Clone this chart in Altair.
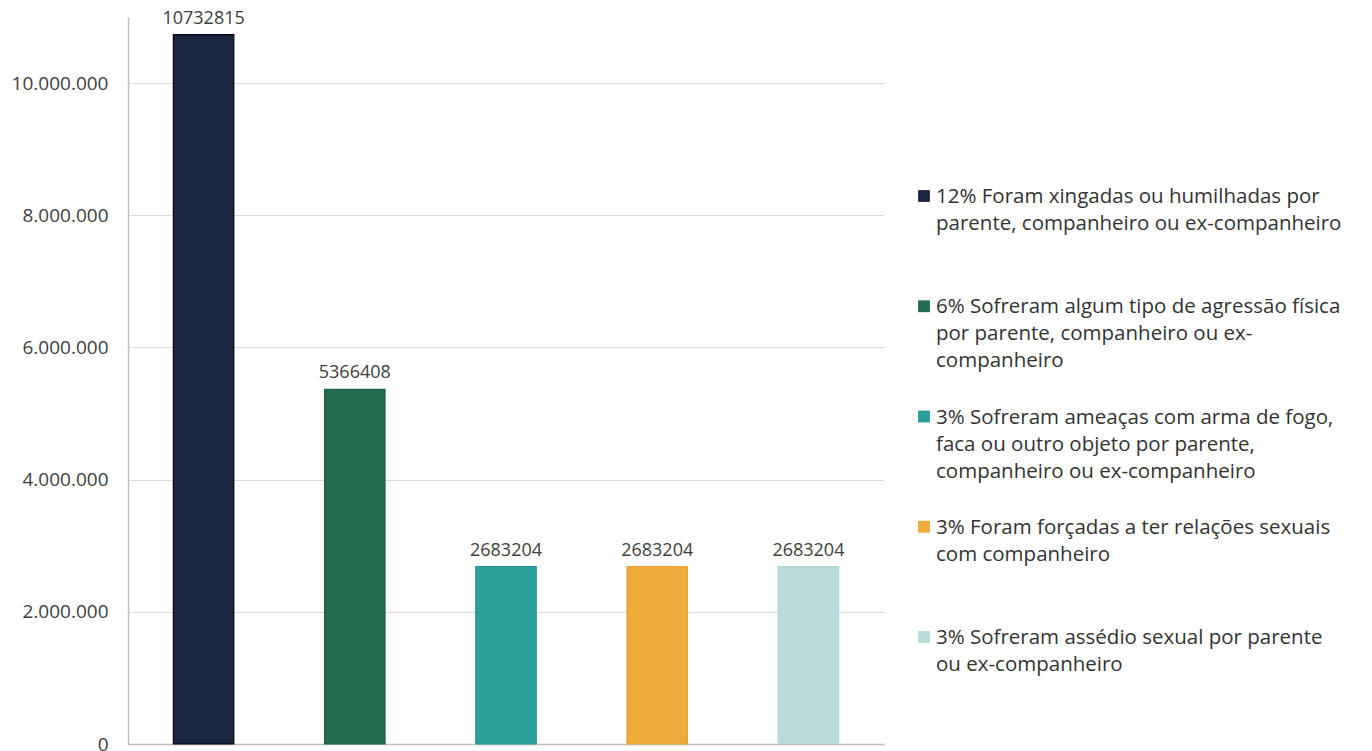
import altair as alt
import pandas as pd

keys = ["a", "b", "c", "d", "e"]
labels = [
    "12% Foram xingadas ou humilhadas por\nparente, companheiro ou ex-companheiro",
    "6% Sofreram algum tipo de agressão física\npor parente, companheiro ou ex-\ncompanheiro",
    "3% Sofreram ameaças com arma de fogo,\nfaca ou outro objeto por parente,\ncompanheiro ou ex-companheiro",
    "3% Foram forçadas a ter relações sexuais\ncom companheiro",
    "3% Sofreram assédio sexual por parente\nou ex-companheiro",
]
values = [10732815, 5366408, 2683204, 2683204, 2683204]
colors = ["#1b2440", "#256b4f", "#2a9f9a", "#eeab3b", "#b9dcdb"]
strokes = ["#05070d", "#22634a", "#299893", "#e6a437", "#b0d4d3"]
y_ticks = [0, 2000000, 4000000, 6000000, 8000000, 10000000]

df = pd.DataFrame({"key": keys, "label": labels, "value": values})

FONT = "Open Sans"
TXT = "#404040"

color_scale = alt.Scale(domain=keys, range=colors)
stroke_scale = alt.Scale(domain=keys, range=strokes)

base = alt.Chart(df).encode(
    x=alt.X(
        "key:N",
        sort=keys,
        scale=alt.Scale(paddingInner=0.6, paddingOuter=0.3),
        axis=alt.Axis(labels=False, ticks=False, title=None, grid=False,
                      domainColor="#bfbfbf", domainWidth=1.5),
    ),
    y=alt.Y(
        "value:Q",
        scale=alt.Scale(domain=[0, 11000000], nice=False),
        axis=alt.Axis(
            values=y_ticks,
            labelExpr="join(split(format(datum.value, ','), ','), '.')",
            ticks=False,
            title=None,
            domainColor="#bfbfbf",
            domainWidth=1.5,
            gridColor="#d9d9d9",
            labelFontSize=19,
            labelColor=TXT,
            labelFont=FONT,
            labelPadding=20,
        ),
    ),
)

bars = base.mark_bar(strokeWidth=1.2).encode(
    color=alt.Color("key:N", scale=color_scale, legend=None),
    stroke=alt.Stroke("key:N", scale=stroke_scale, legend=None),
)
texts = base.mark_text(baseline="bottom", dy=-7, fontSize=18, font=FONT, color=TXT).encode(
    text=alt.Text("value:Q", format="d")
)

main = (bars + texts).properties(width=756, height=727)

leg_base = alt.Chart(df).encode(
    y=alt.Y("key:N", sort=keys, scale=alt.Scale(type="point", padding=0, range=[179, 620]), axis=None)
)
leg_sym = leg_base.mark_point(shape="square", filled=True, size=140, opacity=1).encode(
    x=alt.value(6),
    color=alt.Color("key:N", scale=color_scale, legend=None),
)
leg_txt = leg_base.mark_text(
    align="left", baseline="alphabetic", dy=7, lineBreak="\n", lineHeight=27,
    fontSize=20.5, font=FONT, color="#333333"
).encode(x=alt.value(18), text="label:N")

legend = (leg_sym + leg_txt).properties(width=420, height=727)

chart = (
    alt.hconcat(main, legend, spacing=34)
    .properties(padding={"left": 3, "top": 1, "right": 0, "bottom": 0})
    .configure_view(stroke=None)
)

chart.save("out.html", embed_options={"renderer": "svg", "actions": False})
